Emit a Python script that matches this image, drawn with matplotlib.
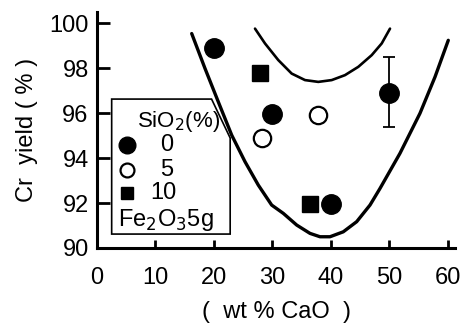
import matplotlib
matplotlib.use("Agg")
import matplotlib.pyplot as plt
from matplotlib.patches import Polygon

plt.rcParams['font.family'] = ['Liberation Sans', 'DejaVu Sans']

# data (wt % CaO, Cr yield %)
sio2_0_x = [20, 30, 40, 50]
sio2_0_y = [98.9, 95.95, 91.95, 96.9]
err_lo = [0, 0, 0, 1.5]
err_hi = [0, 0, 0, 1.6]
sio2_5_x = [28.2, 37.7]
sio2_5_y = [94.9, 95.9]
sio2_10_x = [27.9, 36.4]
sio2_10_y = [97.8, 91.95]

# hand-drawn band
outer_x = [16.19, 18.46, 20.74, 23.03, 25.30, 27.57, 29.86, 31.85, 34.14, 36.41, 38.12,
           39.83, 42.10, 44.39, 46.67, 48.38, 51.79, 55.21, 57.78, 60.05]
outer_y = [99.54, 97.99, 96.50, 95.02, 93.84, 92.80, 91.91, 91.54, 91.02, 90.65, 90.50,
           90.50, 90.72, 91.17, 91.91, 92.65, 94.21, 95.99, 97.61, 99.24]
inner_x = [27.01, 28.72, 30.99, 33.28, 35.56, 37.83, 40.12, 42.39, 44.67, 46.96, 48.67, 50.09]
inner_y = [99.76, 99.10, 98.36, 97.76, 97.47, 97.39, 97.47, 97.69, 98.06, 98.58, 99.10, 99.76]

xticks = [0, 10, 20, 30, 40, 50, 60]
yticks = [90, 92, 94, 96, 98, 100]

fig = plt.figure(figsize=(4.61, 3.24), dpi=100)
ax = fig.add_axes([0.2104, 0.2346, 0.7766, 0.7284])

ax.plot(outer_x, outer_y, color="black", lw=2.4, solid_capstyle="round",
        solid_joinstyle="round", zorder=2)
ax.plot(inner_x, inner_y, color="black", lw=1.9, solid_capstyle="round",
        solid_joinstyle="round", zorder=2)

ax.errorbar(sio2_0_x, sio2_0_y, yerr=[err_lo, err_hi], fmt="o", color="black",
            ms=14, elinewidth=1.3, capsize=4, capthick=1.3, zorder=3)
ax.plot(sio2_5_x, sio2_5_y, "o", mfc="white", mec="black", mew=1.6, ms=12.5, zorder=3)
ax.plot(sio2_10_x, sio2_10_y, "s", color="black", ms=11, zorder=3)

ax.set_xlim(0, 61.2)
ax.set_ylim(90, 100.5)
ax.set_xticks(xticks)
ax.set_yticks(yticks)
ax.tick_params(direction="in", width=2, labelsize=17)
ax.tick_params(axis="y", length=9, pad=6)
ax.tick_params(axis="x", length=6, pad=14)
for s in ["top", "right"]:
    ax.spines[s].set_visible(False)
for s in ["left", "bottom"]:
    ax.spines[s].set_linewidth(2.2)

ax.set_xlabel("(  wt % CaO  )", fontsize=17, labelpad=8)
ax.set_ylabel("Cr  yield ( % )", fontsize=17, labelpad=8)

# legend box with clipped corner, drawn by hand
box = Polygon([(0.041, 0.059), (0.041, 0.631), (0.320, 0.631), (0.372, 0.466), (0.372, 0.059)],
              closed=True, fc="white", ec="black", lw=1.2, transform=ax.transAxes, zorder=4)
ax.add_patch(box)
ax.text(0.112, 0.535, "SiO$_2$(%)", transform=ax.transAxes, fontsize=16, va="center", zorder=5)
ax.plot([0.085], [0.436], "o", color="black", ms=12, transform=ax.transAxes, zorder=5)
ax.plot([0.085], [0.330], "o", mfc="white", mec="black", mew=1.6, ms=10, transform=ax.transAxes, zorder=5)
ax.plot([0.085], [0.233], "s", color="black", ms=8, transform=ax.transAxes, zorder=5)
ax.text(0.196, 0.436, "0", transform=ax.transAxes, fontsize=17, va="center", ha="center", zorder=5)
ax.text(0.196, 0.330, "5", transform=ax.transAxes, fontsize=17, va="center", ha="center", zorder=5)
ax.text(0.185, 0.233, "10", transform=ax.transAxes, fontsize=17, va="center", ha="center", zorder=5)
ax.text(0.06, 0.12, "Fe$_2$O$_3$5g", transform=ax.transAxes, fontsize=17, va="center", zorder=5)

plt.savefig("out.png", dpi=100)
